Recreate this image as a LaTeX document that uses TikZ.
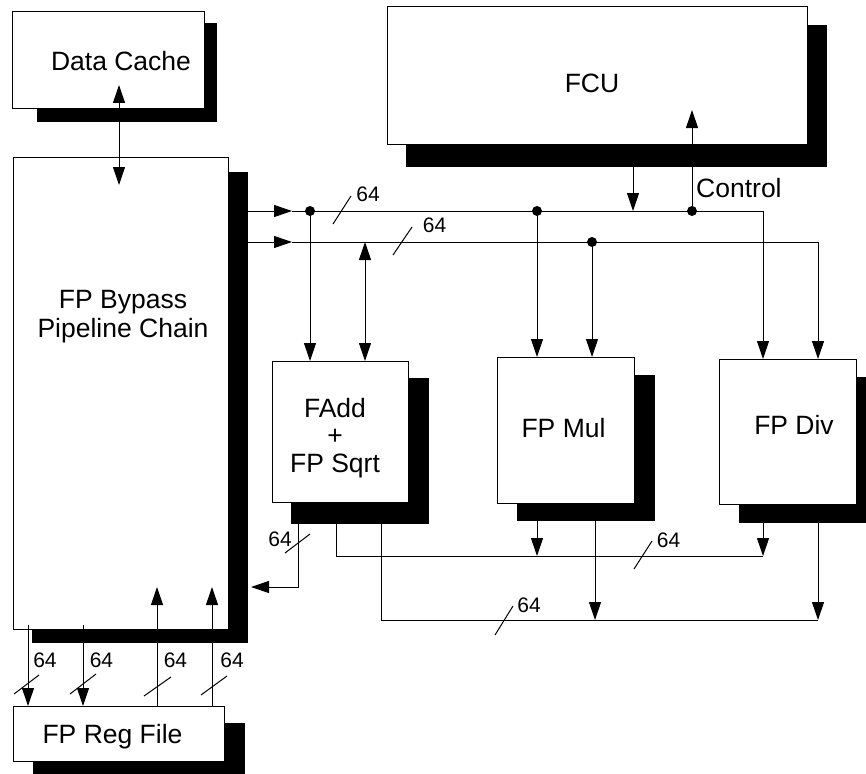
\documentclass[tikz,border=0pt]{standalone}
\usepackage{fontspec}
\setmainfont{Liberation Sans}
\usetikzlibrary{arrows.meta,fit}
\begin{document}
\begin{tikzpicture}[x=1pt,y=-1pt,
  box/.style={draw, fill=white, line width=1pt, inner sep=0pt, outer sep=0pt},
  shade/.style={fill=black, draw=none, inner sep=0pt, outer sep=0pt},
  wire/.style={line width=1pt},
  arr/.style={wire, -{Triangle[length=18pt,width=12pt]}},
  arrb/.style={wire, {Triangle[length=18pt,width=12pt]}-{Triangle[length=18pt,width=12pt]}},
  lbl/.style={inner sep=0pt, font=\fontsize{26.5}{28}\selectfont},
  bw/.style={inner sep=0pt, font=\fontsize{21}{23}\selectfont},
  slash/.style={line width=1pt},
  dot/.style={circle, fill=black, inner sep=0pt, minimum size=10pt}
]
\clip (0,0) rectangle (866,773);
\fill[white] (0,0) rectangle (866,773);

% shadows
\node[shade, fit={(37,23) (217,122)}] (dcS) {};
\node[shade, fit={(32,172) (248,643)}] (bpS) {};
\node[shade, fit={(406,25) (827,167)}] (fcuS) {};
\node[shade, fit={(291,378) (429,524)}] (faddS) {};
\node[shade, fit={(517,375) (655,521)}] (mulS) {};
\node[shade, fit={(739,377) (877,523)}] (divS) {};
\node[shade, fit={(33,723) (245,780)}] (regS) {};

% boxes
\node[box, fit={(12,12) (204,109)}] (dc) {};
\node[box, fit={(13,157) (228,629)}] (bp) {};
\node[box, fit={(387,7) (807,144)}] (fcu) {};
\node[box, fit={(272,361) (408,502)}] (fadd) {};
\node[box, fit={(497,357) (634,503)}] (mul) {};
\node[box, fit={(719,359) (856,504)}] (div) {};
\node[box, fit={(13,706) (224,761)}] (reg) {};

% texts
\node[lbl, anchor=base] (tdc) at (121,71) {Data Cache};
\node[lbl, anchor=base] (tfcu) at (592,92.7) {FCU};
\node[lbl, anchor=base] (tbp1) at (123,308) {FP Bypass};
\node[lbl, anchor=base] (tbp2) at (123,337) {Pipeline Chain};
\node[lbl, anchor=base] (tfa1) at (335,417) {FAdd};
\node[lbl, anchor=base] (tfa2) at (335,444.5) {+};
\node[lbl, anchor=base] (tfa3) at (335,472) {FP Sqrt};
\node[lbl, anchor=base] (tmul) at (563.5,437) {FP Mul};
\node[lbl, anchor=base] (tdiv) at (794,434) {FP Div};
\node[lbl, anchor=base] (treg) at (112.5,743) {FP Reg File};
\node[lbl, anchor=base west] (tctl) at (696,197) {Control};

% coordinates
\coordinate (dcA) at (119,85);
\coordinate (bpA) at (119,185);
\coordinate (L1m) at (292,211);
\coordinate (L1e) at (763,211);
\coordinate (L2m) at (292,242);
\coordinate (L2e) at (818,242);
\coordinate (a2) at (365,242);
\coordinate (c1) at (633,211);
\coordinate (c2) at (692,110);
\coordinate (o1) at (298,587);
\coordinate (o1e) at (251,587);
\coordinate (o2) at (336,556);
\coordinate (o2e) at (763,556);
\coordinate (m1) at (537,556);
\coordinate (o3) at (381,620);
\coordinate (o3e) at (818,620);
\coordinate (m2) at (595,620);
\coordinate (r1) at (28,625);
\coordinate (r2) at (83,625);
\coordinate (r3) at (157,587);
\coordinate (r4) at (212,587);
\coordinate (d1c) at (310,211);
\coordinate (d2c) at (537,211);
\coordinate (d3c) at (692,211);
\coordinate (d4c) at (592,242);

% connectors
\draw[arrb] (dcA) -- (bpA);
\draw[arr] (bpS.east |- L1m) -- (L1m);
\draw[arr] (L1m) -- (L1e) -- (L1e |- div.north);
\draw[arr] (bpS.east |- L2m) -- (L2m);
\draw[arr] (L2m) -- (L2e) -- (L2e |- div.north);
\draw[arr] (d1c) -- (d1c |- fadd.north);
\draw[arrb] (a2) -- (a2 |- fadd.north);
\draw[arr] (d2c) -- (d2c |- mul.north);
\draw[arr] (d4c) -- (d4c |- mul.north);
\draw[arr] (c1 |- fcuS.south) -- (c1);
\draw[arr] (d3c) -- (c2);

\draw[arr] (o1 |- fadd.south) -- (o1) -- (o1e);
\draw[wire] (o2 |- fadd.south) -- (o2) -- (o2e);
\draw[arr] (o2e |- div.south) -- (o2e);
\draw[arr] (m1 |- mul.south) -- (m1);
\draw[wire] (o3 |- fadd.south) -- (o3) -- (o3e);
\draw[arr] (o3e |- div.south) -- (o3e);
\draw[arr] (m2 |- mul.south) -- (m2);

\draw[arr] (r1) -- (r1 |- reg.north);
\draw[arr] (r2) -- (r2 |- reg.north);
\draw[arr] (r3 |- reg.north) -- (r3);
\draw[arr] (r4 |- reg.north) -- (r4);

% junction dots
\node[dot] (d1) at (d1c) {};
\node[dot] (d2) at (d2c) {};
\node[dot] (d3) at (d3c) {};
\node[dot] (d4) at (d4c) {};

% bus width slashes
\draw[slash] (333,224) -- (351,196);
\draw[slash] (393,255) -- (412,227);
\draw[slash] (634,569) -- (652,541);
\draw[slash] (495,635) -- (513,606);
\draw[slash] (285,553) -- (310,534);
\draw[slash] (14,694) -- (39,675);
\draw[slash] (70,694) -- (96,674);
\draw[slash] (144,696) -- (171,677);
\draw[slash] (201,695) -- (227,676);

\node[bw] (w1) at (368,194.5) {64};
\node[bw] (w2) at (434.5,225.5) {64};
\node[bw] (w3) at (668.5,540) {64};
\node[bw] (w4) at (529,605) {64};
\node[bw] (w5) at (280,539.5) {64};
\node[bw] (w6) at (45,660) {64};
\node[bw] (w7) at (101.5,660) {64};
\node[bw] (w8) at (175.5,660) {64};
\node[bw] (w9) at (232,660) {64};
\end{tikzpicture}
\end{document}
